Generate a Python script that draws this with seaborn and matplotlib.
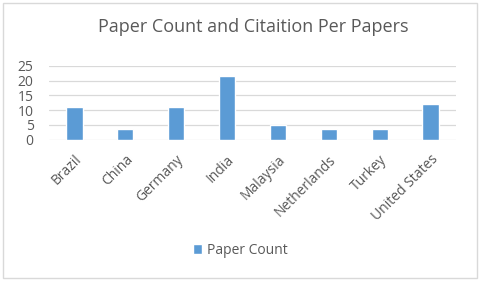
import matplotlib
matplotlib.use("Agg")
import matplotlib.pyplot as plt
from matplotlib.patches import Rectangle
import seaborn as sns

countries = ["Brazil", "China", "Germany", "India", "Malaysia",
             "Netherlands", "Turkey", "United States"]
paper_count = [11, 3.5, 11, 21.5, 5, 3.7, 3.7, 12]
yticks = [0, 5, 10, 15, 20, 25]

sns.set_style("white")
plt.rcParams["font.family"] = ["Open Sans", "DejaVu Sans"]
txt = "#595959"

fig = plt.figure(figsize=(4.8, 2.81), dpi=100)
ax = fig.add_axes([0.102, 0.503, 0.848, 0.263])

sns.barplot(x=countries, y=paper_count, color="#5b9bd5", width=0.32,
            saturation=1, label="Paper Count", ax=ax)

ax.set_ylim(0, 25)
ax.set_xlim(-0.5, len(countries) - 0.5)
ax.set_yticks(yticks)
ax.set_yticklabels([str(v) for v in yticks], fontsize=10, color=txt)
ax.yaxis.grid(True, color="#d9d9d9", linewidth=0.9)
ax.set_axisbelow(True)
for s in ax.spines.values():
    s.set_visible(False)
ax.tick_params(axis="both", length=0)
ax.tick_params(axis="y", pad=11)
ax.tick_params(axis="x", pad=9)
ax.set_xticks(range(len(countries)))
ax.set_xticklabels(countries, rotation=45, ha="right", rotation_mode="anchor",
                   fontsize=10, color=txt)
ax.set_xlabel("")
ax.set_ylabel("")

if ax.legend_:
    ax.legend_.remove()
fig.legend(*ax.get_legend_handles_labels(), loc="center", bbox_to_anchor=(0.5, 0.11),
           frameon=False, fontsize=10, labelcolor=txt, handlelength=0.7,
           handleheight=0.7, handletextpad=0.3)

fig.text(0.528, 0.905, "Paper Count and Citaition Per Papers", ha="center",
         va="center", fontsize=13, color=txt)

fig.patches.append(Rectangle((0.006, 0.012), 0.988, 0.976, transform=fig.transFigure,
                             fill=False, edgecolor="#d9d9d9", linewidth=1))

fig.savefig("out.png", dpi=100)
